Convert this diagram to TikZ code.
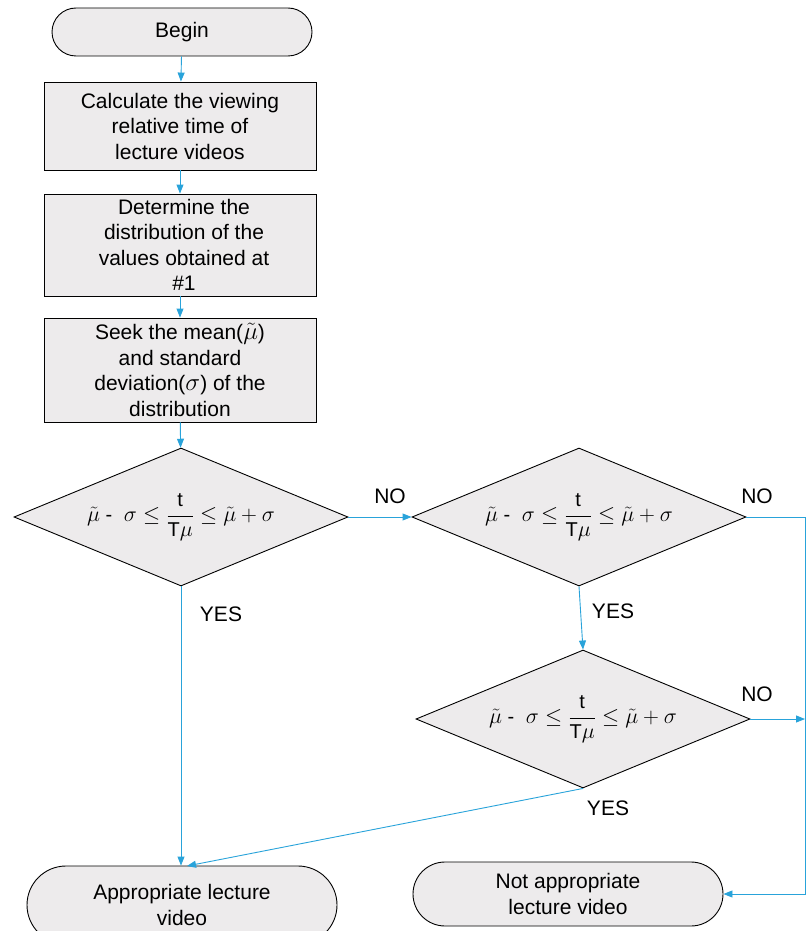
\RequirePackage{fix-cm}
\documentclass[tikz,border=0pt]{standalone}
\usepackage{fontspec}
\setmainfont{Liberation Sans}
\usetikzlibrary{shapes.geometric,arrows.meta}
\definecolor{boxfill}{RGB}{237,235,236}
\definecolor{flow}{RGB}{41,163,218}
\newcommand{\fractext}[1]{\mbox{\fontsize{20}{20}\selectfont #1}}
\newcommand{\condtext}{$\tilde{\mu}$\fractext{ - }\ $\sigma \leq\displaystyle\frac{\fractext{t}}{\fractext{T}\mu}\leq \tilde{\mu} + \sigma$}
\newcommand{\bigmath}[1]{{\fontsize{25}{25}\selectfont$#1$}}
\begin{document}
\begin{tikzpicture}[x=1pt,y=-1pt,
  every node/.style={font=\fontsize{21}{25.5}\selectfont},
  procbox/.style={draw=black,fill=boxfill,line width=0.9pt,minimum width=272pt,align=center,inner sep=2pt},
  terminal/.style={draw=black,fill=boxfill,line width=0.9pt,align=center},
  decision/.style={draw=black,fill=boxfill,line width=0.9pt,shape=diamond,aspect=2.42,
    inner sep=0pt,minimum width=334pt,minimum height=138pt,font=\fontsize{22}{26}\selectfont},
  flowline/.style={draw=flow,line width=0.9pt},
  flowarrow/.style={flowline,-{Triangle[length=9pt,width=7pt]}},
  lbl/.style={font=\fontsize{21}{24}\selectfont}]
\useasboundingbox (0,0) rectangle (808,931);

% start
\node[terminal,minimum width=260pt,minimum height=48pt,rounded corners=24pt] (begin) at (182,32) {Begin};

% processing steps
\node[procbox,minimum height=88pt] (s1) at (180,126) {Calculate the viewing\\relative time of\\lecture videos};
\node[procbox,minimum height=102pt] (s2) at (180,245) {\hspace*{8pt}Determine the\\\hspace*{8pt}distribution of the\\\hspace*{8pt}values obtained at\\\hspace*{8pt}\#1};
\node[procbox,minimum height=104pt] (s3) at (180,370) {Seek the mean(\bigmath{\tilde{\mu}})\\and standard\\deviation(\bigmath{\sigma}) of the\\distribution};

% decisions
\node[decision] (d1) at (181,517) {\condtext};
\node[decision] (d2) at (579,517) {\condtext};
\node[decision] (d3) at (583,719) {\condtext};

% outcomes
\node[terminal,minimum width=310pt,minimum height=78pt,rounded corners=39pt] (ap) at (182,905) {Appropriate lecture\\video};
\node[terminal,minimum width=310pt,minimum height=64pt,rounded corners=32pt] (na) at (568,894) {Not appropriate\\lecture video};

% routing points
\coordinate (rr) at (805,517);
\coordinate (apin) at (187,866);

% connectors
\draw[flowarrow] (begin) -- (s1);
\draw[flowarrow] (s1) -- (s2);
\draw[flowarrow] (s2) -- (s3);
\draw[flowarrow] (s3) -- (d1);
\draw[flowarrow] (d1.east) -- (d2.west);
\draw[flowarrow] (d1.south) -- (d1.south |- ap.north);
\draw[flowarrow] (d2.south) -- (d3.north);
\draw[flowarrow] (d2.east) -- (rr) |- (na.east);
\draw[flowarrow] (d3.east) -- (d3.east -| rr);
\draw[flowarrow] (d3.south) -- (apin);

% branch labels
\node[lbl] (no1) at (390,496) {NO};
\node[lbl] (yes1) at (221,614) {YES};
\node[lbl] (no2) at (757,496) {NO};
\node[lbl] (yes2) at (613,611) {YES};
\node[lbl] (no3) at (757,694) {NO};
\node[lbl] (yes3) at (608,808) {YES};
\end{tikzpicture}
\end{document}
